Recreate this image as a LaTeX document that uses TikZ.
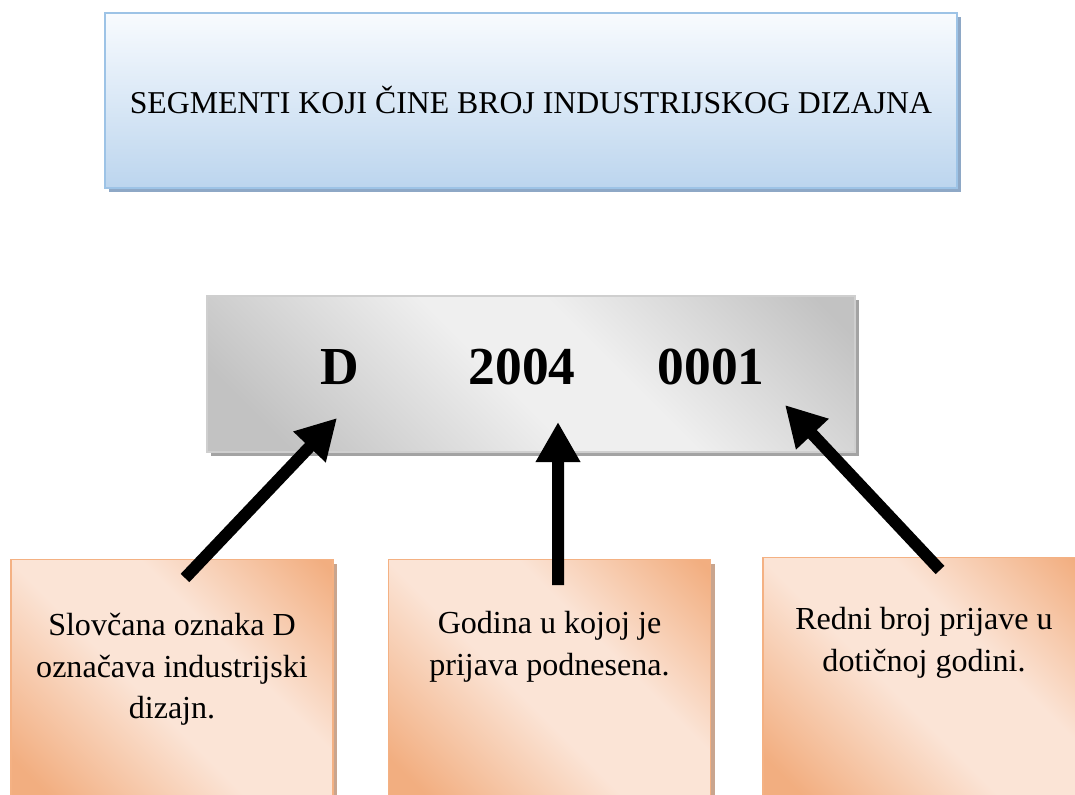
\documentclass[tikz,border=0pt]{standalone}
\usepackage{fontspec}
\setmainfont{Liberation Serif}
\usetikzlibrary{arrows.meta,shadows,positioning}

\definecolor{titleline}{HTML}{9DC3E6}
\definecolor{titletop}{HTML}{F8FBFE}
\definecolor{titlebottom}{HTML}{BCD5EE}
\definecolor{titleshadow}{HTML}{8EA8C6}
\definecolor{codeline}{HTML}{CFCFCF}
\definecolor{codedark}{HTML}{C2C2C2}
\definecolor{codelight}{HTML}{EFEFEF}
\definecolor{codeshadow}{HTML}{A3A3A3}
\definecolor{peachline}{HTML}{F4B183}
\definecolor{peachdark}{HTML}{F2AE80}
\definecolor{peachlight}{HTML}{FBE4D6}
\definecolor{peachshadow}{HTML}{C9A58E}

\pgfdeclarehorizontalshading{grayfade}{100bp}{color(0bp)=(codedark); color(22bp)=(codedark); color(47bp)=(codelight); color(58bp)=(codelight); color(82bp)=(codedark); color(100bp)=(codedark)}
\pgfdeclarehorizontalshading{peachfade}{100bp}{color(0bp)=(peachdark); color(22bp)=(peachdark); color(46bp)=(peachlight); color(62bp)=(peachlight); color(84bp)=(peachdark); color(100bp)=(peachdark)}

\tikzset{
  titlebox/.style={draw=titleline, line width=1pt, top color=titletop, bottom color=titlebottom,
    drop shadow={shadow xshift=0.1cm, shadow yshift=-0.1cm, fill=titleshadow, opacity=1},
    minimum width=21.3cm, minimum height=4.375cm, font=\fontsize{22.6}{26}\selectfont},
  codebox/.style={draw=codeline, line width=1pt, shading=grayfade, shading angle=45,
    drop shadow={shadow xshift=0.09cm, shadow yshift=-0.09cm, fill=codeshadow, opacity=1},
    minimum width=16.2cm, minimum height=3.9cm},
  numlbl/.style={font=\fontsize{38}{42}\selectfont\bfseries, inner sep=0pt},
  descbox/.style={draw=peachline, line width=1pt, shading=peachfade, shading angle=45,
    drop shadow={shadow xshift=0.1cm, shadow yshift=-0.1cm, fill=peachshadow, opacity=1},
    minimum width=8.05cm, minimum height=6.5cm, anchor=north},
  desctext/.style={align=center, inner sep=0pt, font=\fontsize{22.8}{29.5}\selectfont},
  pointer/.style={line width=0.3cm, -{Triangle[length=1.0cm, width=1.05cm]}}
}

\begin{document}
\begin{tikzpicture}[x=0.025cm,y=-0.025cm]
  \useasboundingbox (0,0) rectangle (1075,794);
  % title
  \node[titlebox] (title) at (531,100.5) {SEGMENTI KOJI ČINE BROJ INDUSTRIJSKOG DIZAJNA};
  % number and its parts
  \node[codebox] (code) at (531,374) {};
  \node[numlbl] (lblD) at (340,367) {D};
  \node[numlbl] (lblYear) at (522,367) {2004};
  \node[numlbl] (lblNum) at (711,367) {0001};
  % descriptions
  \node[descbox] (descD) at (172,559) {};
  \node[descbox] (descYear) at (549.5,559) {};
  \node[descbox] (descNum) at (924,557) {};
  \node[desctext, below=1.35cm of descD.north] (txtD) {Slovčana oznaka D\\označava industrijski\\dizajn.};
  \node[desctext, below=1.3cm of descYear.north] (txtYear) {Godina u kojoj je\\prijava podnesena.};
  \node[desctext, below=1.25cm of descNum.north] (txtNum) {Redni broj prijave u\\dotičnoj godini.};
  % arrows
  \draw[pointer] ([xshift=0.325cm,yshift=-0.475cm]descD.north) -- ([xshift=-0.075cm,yshift=-1.275cm]lblD.center);
  \draw[pointer] ([xshift=0.2125cm,yshift=-0.65cm]descYear.north) -- ([xshift=0.9cm,yshift=-1.375cm]lblYear.center);
  \draw[pointer] ([xshift=0.4cm,yshift=-0.325cm]descNum.north) -- ([xshift=1.85cm,yshift=-0.95cm]lblNum.center);
\end{tikzpicture}
\end{document}
